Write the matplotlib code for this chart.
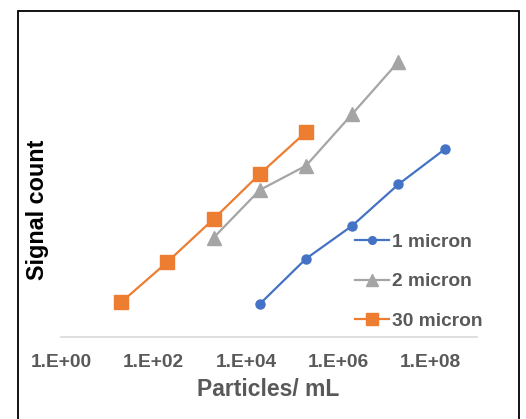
import matplotlib
matplotlib.use("Agg")
import matplotlib.pyplot as plt
from matplotlib.patches import Rectangle

plt.rcParams['font.family'] = ['Liberation Sans', 'DejaVu Sans']
plt.rcParams['font.weight'] = 'bold'

# data (signal count in arbitrary units)
conc_1um = [2e4, 2e5, 2e6, 2e7, 2e8]
signal_1um = [330, 783, 1113, 1527, 1877]
conc_2um = [2e3, 2e4, 2e5, 2e6, 2e7]
signal_2um = [993, 1470, 1713, 2230, 2753]
conc_30um = [2e1, 2e2, 2e3, 2e4, 2e5]
signal_30um = [347, 750, 1180, 1630, 2050]
xticks = [1e0, 1e2, 1e4, 1e6, 1e8]
xtick_labels = ['1.E+00', '1.E+02', '1.E+04', '1.E+06', '1.E+08']

W, H = 526, 419
fig = plt.figure(figsize=(W / 100, H / 100), dpi=100)
ax = fig.add_axes([61 / W, (H - 337) / H, 416 / W, 307 / H])

gray_txt = '#595959'
ax.plot(conc_1um, signal_1um, color='#4472C4', lw=1.6, marker='o', ms=6.5,
        label='1 micron')
ax.plot(conc_2um, signal_2um, color='#A5A5A5', lw=1.6, marker='^', ms=10,
        label='2 micron')
ax.plot(conc_30um, signal_30um, color='#ED7D31', lw=1.6, marker='s', ms=10.5,
        label='30 micron')

ax.set_xscale('log')
ax.set_xlim(1, 1e9)
ax.set_ylim(0, 3070)
ax.set_xticks(xticks)
ax.set_xticklabels(xtick_labels)
ax.minorticks_off()
ax.set_yticks([])
ax.tick_params(axis='x', length=0, pad=12, labelsize=13.8, labelcolor=gray_txt)

for s in ['top', 'right', 'left']:
    ax.spines[s].set_visible(False)
ax.spines['bottom'].set_color('#D9D9D9')
ax.spines['bottom'].set_linewidth(1.2)

ax.set_xlabel('Particles/ mL', fontsize=16.5, color=gray_txt, va='center',
              fontweight='bold')
ax.xaxis.set_label_coords(0.4976, -0.1726)
ax.set_ylabel('Signal count', fontsize=16.8, color='black', va='center',
              fontweight='bold')
ax.yaxis.set_label_coords(-0.0553, 0.414)

leg = ax.legend(loc='center left', bbox_to_anchor=(355 / W, (H - 281.7) / H),
                bbox_transform=fig.transFigure, frameon=False, fontsize=13.8,
                handlelength=1.75, handletextpad=0.2, labelspacing=1.15,
                borderpad=0, borderaxespad=0, markerscale=0.85)
for t in leg.get_texts():
    t.set_color(gray_txt)

fig.patches.append(Rectangle((18 / W, -0.01), (519 - 18) / W, (H - 11) / H + 0.01,
                             transform=fig.transFigure, fill=False,
                             edgecolor='black', lw=1.3))

fig.savefig('out.png', dpi=100)
